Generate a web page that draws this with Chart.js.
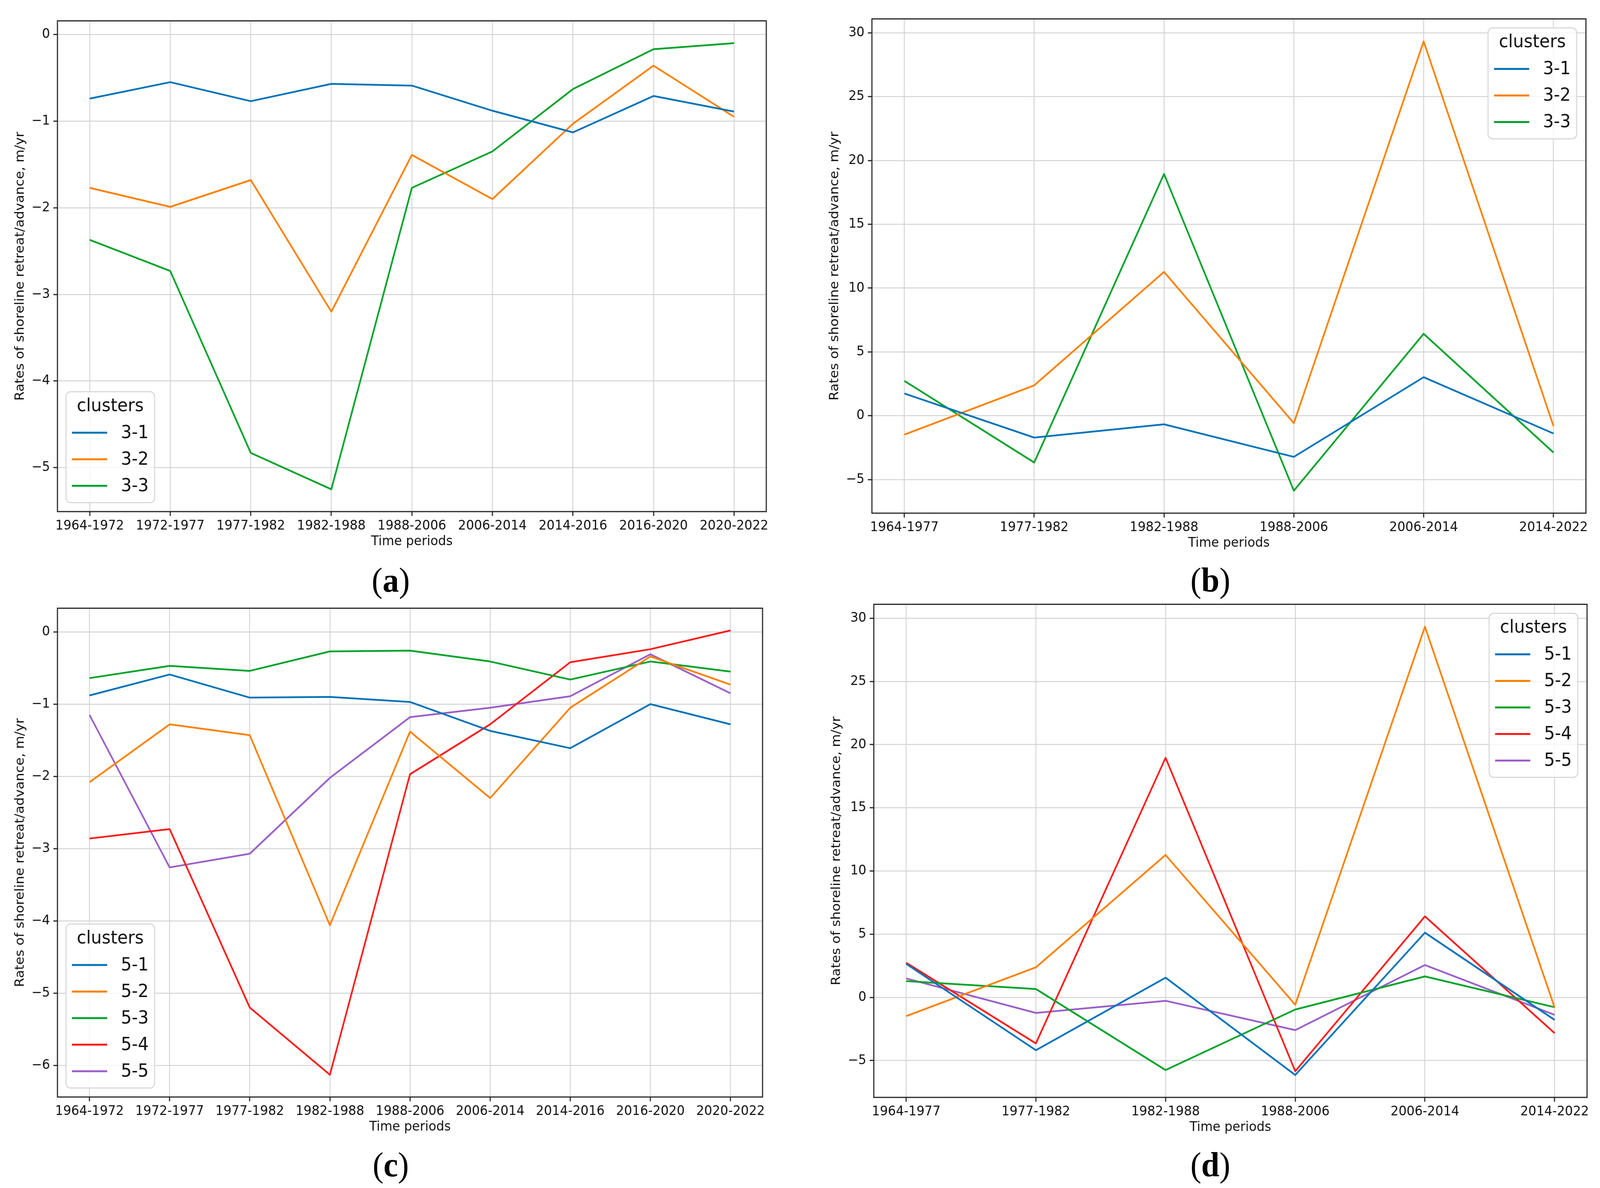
<!DOCTYPE html>
<html>
<head>
<meta charset="utf-8">
<script src="https://cdn.jsdelivr.net/npm/chart.js@4.4.1/dist/chart.umd.min.js"></script>
<style>
  html { margin: 0; padding: 0; background: #fff; overflow: hidden; }
  body { margin: 0; padding: 0; background: #fff; width: 4316px; height: 3042px; position: relative; overflow: hidden; transform-origin: 0 0; }
  .panel { position: absolute; }
  .tag {
    position: absolute; transform: translate(-50%, -50%);
    font-family: "Liberation Serif", "Times New Roman", serif; font-size: 88px; color: #000;
    line-height: 1; white-space: nowrap;
  }
  .tag b { font-weight: bold; }
</style>
</head>
<body>
<div class="panel" id="wrapA"><canvas id="chartA"></canvas></div>
<div class="panel" id="wrapB"><canvas id="chartB"></canvas></div>
<div class="panel" id="wrapC"><canvas id="chartC"></canvas></div>
<div class="panel" id="wrapD"><canvas id="chartD"></canvas></div>
<div class="tag" style="left:1054px; top:1486px">(<b>a</b>)</div>
<div class="tag" style="left:3265px; top:1486px">(<b>b</b>)</div>
<div class="tag" style="left:1054px; top:2983px">(<b>c</b>)</div>
<div class="tag" style="left:3265px; top:2983px">(<b>d</b>)</div>
<script>
// the window may be narrower than the 4316px design, squeeze it to fit
const fitX = Math.min(1, window.innerWidth / 4316);
document.body.style.transform = 'scaleX(' + fitX + ')';

// periods on the x axis
const periodsLong = ['1964-1972', '1972-1977', '1977-1982', '1982-1988', '1988-2006', '2006-2014', '2014-2016', '2016-2020', '2020-2022'];
const periodsShort = ['1964-1977', '1977-1982', '1982-1988', '1988-2006', '2006-2014', '2014-2022'];

// y tick values
const ticksA = [-5, -4, -3, -2, -1, 0];
const ticksC = [-6, -5, -4, -3, -2, -1, 0];
const ticksBD = [-5, 0, 5, 10, 15, 20, 25, 30];

// (a) 3 clusters, long periods
const clustersA = ['3-1', '3-2', '3-3'];
const a31 = [-0.74, -0.55, -0.77, -0.57, -0.59, -0.88, -1.13, -0.71, -0.89];
const a32 = [-1.77, -1.99, -1.68, -3.20, -1.39, -1.90, -1.03, -0.36, -0.95];
const a33 = [-2.37, -2.73, -4.83, -5.25, -1.77, -1.35, -0.63, -0.17, -0.10];

// (b) 3 clusters, short periods
const clustersB = ['3-1', '3-2', '3-3'];
const b31 = [1.74, -1.71, -0.67, -3.22, 3.02, -1.39];
const b32 = [-1.48, 2.38, 11.27, -0.58, 29.33, -0.81];
const b33 = [2.73, -3.66, 18.94, -5.87, 6.42, -2.88];

// (c) 5 clusters, long periods
const clustersC = ['5-1', '5-2', '5-3', '5-4', '5-5'];
const c51 = [-0.88, -0.59, -0.91, -0.90, -0.97, -1.37, -1.61, -1.00, -1.28];
const c52 = [-2.08, -1.28, -1.43, -4.06, -1.38, -2.30, -1.05, -0.34, -0.73];
const c53 = [-0.64, -0.47, -0.54, -0.27, -0.26, -0.41, -0.66, -0.41, -0.55];
const c54 = [-2.86, -2.73, -5.20, -6.13, -1.97, -1.28, -0.42, -0.24, 0.02];
const c55 = [-1.15, -3.26, -3.07, -2.02, -1.18, -1.05, -0.89, -0.31, -0.85];

// (d) 5 clusters, short periods
const clustersD = ['5-1', '5-2', '5-3', '5-4', '5-5'];
const d51 = [2.65, -4.18, 1.56, -6.14, 5.12, -1.78];
const d52 = [-1.48, 2.38, 11.27, -0.58, 29.33, -0.81];
const d53 = [1.29, 0.66, -5.75, -0.96, 1.66, -0.78];
const d54 = [2.74, -3.64, 18.96, -5.84, 6.41, -2.83];
const d55 = [1.50, -1.23, -0.27, -2.59, 2.56, -1.38];

const colors = ['#0173b8', '#ff8000', '#00a22a', '#ff1a1a', '#9b5fc8'];

Chart.defaults.font.family = '"DejaVu Sans", sans-serif';
Chart.defaults.color = '#111';

// box around the plot area, like matplotlib spines
const frame = {
  id: 'frame',
  afterDatasetsDraw(chart) {
    const { ctx, chartArea: a } = chart;
    ctx.save();
    ctx.strokeStyle = '#262626';
    ctx.lineWidth = 3;
    ctx.strokeRect(a.left, a.top, a.right - a.left, a.bottom - a.top);
    ctx.restore();
  }
};

// legend drawn inside the axes with a title
const clusterLegend = {
  id: 'clusterLegend',
  afterDraw(chart, args, opts) {
    const { ctx, chartArea: area } = chart;
    const sets = chart.data.datasets;
    const boxW = 239, rowH = 68;
    const boxH = 38 + 67 + (sets.length - 1) * rowH + 43;
    const x = opts.corner === 'tr' ? area.right - 25 - boxW : area.left + 23;
    const y = opts.corner === 'tr' ? area.top + 23 : area.bottom - 23 - boxH;
    ctx.save();
    ctx.beginPath();
    ctx.roundRect(x, y, boxW, boxH, 12);
    ctx.fillStyle = 'rgba(255,255,255,0.8)';
    ctx.fill();
    ctx.strokeStyle = '#d9d9d9';
    ctx.lineWidth = 3;
    ctx.stroke();
    ctx.font = '46px "DejaVu Sans"';
    ctx.fillStyle = '#111';
    ctx.textBaseline = 'middle';
    ctx.textAlign = 'center';
    ctx.fillText('clusters', x + boxW / 2, y + 38);
    ctx.textAlign = 'left';
    sets.forEach((ds, i) => {
      const cy = y + 38 + 67 + i * rowH;
      ctx.strokeStyle = ds.borderColor;
      ctx.lineWidth = 5;
      ctx.beginPath();
      ctx.moveTo(x + 16, cy);
      ctx.lineTo(x + 111, cy);
      ctx.stroke();
      ctx.fillText(ds.label, x + 148, cy + 2);
    });
    ctx.restore();
  }
};

const fmt = v => (v < 0 ? '\u2212' + Math.abs(v) : String(v));

function makeChart(id, wrapId, rect, periods, names, series, yTicks, corner) {
  const yAxisW = 155, xAxisH = 110, padT = 20, padR = 20;
  const wrap = document.getElementById(wrapId);
  wrap.style.left = (rect.l - yAxisW) + 'px';
  wrap.style.top = (rect.t - padT) + 'px';
  wrap.style.width = (rect.r - rect.l + yAxisW + padR) + 'px';
  wrap.style.height = (rect.b - rect.t + padT + xAxisH) + 'px';

  const all = series.flat();
  const lo = Math.min(...all), hi = Math.max(...all);
  const pad = (hi - lo) * 0.05;
  const xPad = (periods.length - 1) * 0.05;

  return new Chart(document.getElementById(id), {
    type: 'line',
    data: {
      datasets: series.map((vals, i) => ({
        label: names[i],
        data: vals.map((v, k) => ({ x: k, y: v })),
        borderColor: colors[i],
        backgroundColor: colors[i],
        borderWidth: 4.5,
        pointRadius: 0,
        tension: 0,
        fill: false,
        borderJoinStyle: 'round'
      }))
    },
    options: {
      responsive: true,
      maintainAspectRatio: false,
      animation: false,
      events: [],
      layout: { padding: { top: padT, right: padR, left: 0, bottom: 0 } },
      scales: {
        x: {
          type: 'linear',
          min: -xPad,
          max: periods.length - 1 + xPad,
          afterBuildTicks: s => { s.ticks = periods.map((_, k) => ({ value: k })); },
          afterFit: s => { s.height = xAxisH; },
          ticks: {
            autoSkip: false, maxRotation: 0, padding: 6,
            font: { size: 34 }, color: '#111',
            callback: v => periods[v]
          },
          grid: { color: '#d4d4d4', lineWidth: 2.5, tickColor: '#262626', tickWidth: 3, tickLength: 11 },
          border: { display: false },
          title: { display: true, text: 'Time periods', font: { size: 34, lineHeight: 1 }, color: '#111', padding: { top: 0, bottom: 16 } }
        },
        y: {
          min: lo - pad,
          max: hi + pad,
          afterBuildTicks: s => { s.ticks = yTicks.map(v => ({ value: v })); },
          afterFit: s => { s.width = yAxisW; },
          ticks: { padding: 9, font: { size: 34 }, color: '#111', callback: v => fmt(v) },
          grid: { color: '#d4d4d4', lineWidth: 2.5, tickColor: '#262626', tickWidth: 3, tickLength: 11 },
          border: { display: false },
          title: { display: true, text: 'Rates of shoreline retreat/advance, m/yr', font: { size: 34, lineHeight: 1 }, color: '#111', padding: { top: 38, bottom: 0 } }
        }
      },
      plugins: {
        legend: { display: false },
        tooltip: { enabled: false },
        clusterLegend: { corner }
      }
    },
    plugins: [frame, clusterLegend]
  });
}

makeChart('chartA', 'wrapA', { l: 155, t: 44, r: 2067, b: 1310 }, periodsLong, clustersA, [a31, a32, a33], ticksA, 'bl');
makeChart('chartB', 'wrapB', { l: 2352, t: 39, r: 4278, b: 1314 }, periodsShort, clustersB, [b31, b32, b33], ticksBD, 'tr');
makeChart('chartC', 'wrapC', { l: 155, t: 1548, r: 2057, b: 2809 }, periodsLong, clustersC, [c51, c52, c53, c54, c55], ticksC, 'bl');
makeChart('chartD', 'wrapD', { l: 2357, t: 1538, r: 4281, b: 2810 }, periodsShort, clustersD, [d51, d52, d53, d54, d55], ticksBD, 'tr');
</script>
</body>
</html>
